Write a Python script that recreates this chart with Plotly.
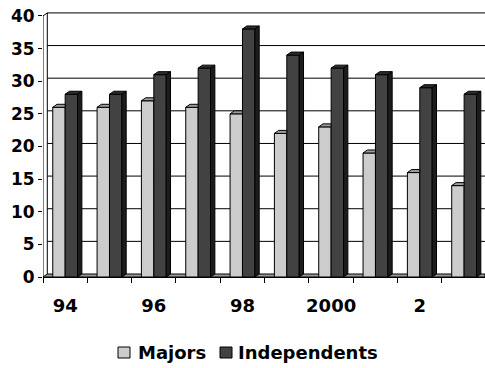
import plotly.graph_objects as go

# Yearly counts, Majors vs Independents
categories = ["94", "95", "96", "97", "98", "99", "2000", "1", "2", "3"]
majors = [26, 26, 27, 26, 25, 22, 23, 19, 16, 14]
independents = [28, 28, 31, 32, 38, 34, 32, 31, 29, 28]
series_names = ["Majors", "Independents"]
y_tick_values = [0, 5, 10, 15, 20, 25, 30, 35, 40]
x_tick_labels = categories[::2]

# Styling for the pseudo-3D column look
MAJ_FRONT, MAJ_TOP = "#cccccc", "#9c9c9c"
IND_FRONT, IND_TOP, IND_SIDE = "#424242", "#2c2c2c", "#1c1c1c"
BAR_W = 0.28      # front-face width of one column (category units)
DX = 0.097        # depth offset along x (category units)
DY = 0.46         # depth offset along y (value units)
X_RANGE = [-0.5, 9.471]
Y_RANGE = [0, 40.6]
FONT = "DejaVu Sans"

W, H = 485, 368
M_L, M_R, M_T, M_B = 43, 0, 12, 91
PLOT_W = W - M_L - M_R
PLOT_H = H - M_T - M_B


def paper_x(px):
    return (px - M_L) / PLOT_W


def paper_y(py):
    return (H - M_B - py) / PLOT_H


xs = list(range(len(categories)))


def polygons_trace(polys, fillcolor):
    px, py = [], []
    for poly in polys:
        for (a, b) in poly + [poly[0]]:
            px.append(a)
            py.append(b)
        px.append(None)
        py.append(None)
    return go.Scatter(x=px, y=py, mode="lines", fill="toself",
                      fillcolor=fillcolor, line=dict(color="black", width=1),
                      showlegend=False, hoverinfo="skip")


fig = go.Figure()

# Front faces
fig.add_trace(go.Bar(name=series_names[0], x=xs, y=majors, offset=-BAR_W, width=BAR_W,
                     marker=dict(color=MAJ_FRONT, line=dict(color="black", width=1))))
fig.add_trace(go.Bar(name=series_names[1], x=xs, y=independents, offset=0, width=BAR_W,
                     marker=dict(color=IND_FRONT, line=dict(color="black", width=1))))

# Top faces of Majors (right part hidden behind the Independents column)
maj_tops = [[(i - BAR_W, v), (i, v), (i, v + DY), (i - BAR_W + DX, v + DY)]
            for i, v in zip(xs, majors)]
# Top and side faces of Independents
ind_tops = [[(i, v), (i + BAR_W, v), (i + BAR_W + DX, v + DY), (i + DX, v + DY)]
            for i, v in zip(xs, independents)]
ind_sides = [[(i + BAR_W, 0), (i + BAR_W + DX, DY), (i + BAR_W + DX, v + DY), (i + BAR_W, v)]
             for i, v in zip(xs, independents)]

fig.add_trace(polygons_trace(maj_tops, MAJ_TOP))
fig.add_trace(polygons_trace(ind_tops, IND_TOP))
fig.add_trace(polygons_trace(ind_sides, IND_SIDE))

# Back wall gridlines, wall edge and floor
shapes = []
for t in y_tick_values[1:]:
    shapes.append(dict(type="line", xref="x", yref="y", layer="below",
                       x0=X_RANGE[0] + DX, x1=X_RANGE[1], y0=t + DY, y1=t + DY,
                       line=dict(color="black", width=1)))
shapes.append(dict(type="line", xref="x", yref="y", layer="below",
                   x0=X_RANGE[0] + DX, x1=X_RANGE[0] + DX,
                   y0=DY, y1=y_tick_values[-1] + DY,
                   line=dict(color="black", width=1)))
shapes.append(dict(type="line", xref="x", yref="y", layer="below",
                   x0=X_RANGE[0], x1=X_RANGE[0] + DX,
                   y0=y_tick_values[-1], y1=y_tick_values[-1] + DY,
                   line=dict(color="black", width=1)))
shapes.append(dict(type="path", xref="x", yref="y", layer="below",
                   path=(f"M{X_RANGE[0]},0 L{X_RANGE[1]},0 L{X_RANGE[1]},{DY} "
                         f"L{X_RANGE[0] + DX},{DY} Z"),
                   fillcolor="#9a9a9a", line=dict(color="black", width=1)))
# Front value axis line
shapes.append(dict(type="line", xref="x", yref="y", layer="above",
                   x0=X_RANGE[0], x1=X_RANGE[0], y0=0, y1=y_tick_values[-1],
                   line=dict(color="black", width=1)))

# Legend row below the chart: swatch + label for each series
legend_font = dict(family=FONT, size=18, color="black", weight="bold")
annotations = []
legend_items = [(series_names[0], MAJ_FRONT, 118, 138),
                (series_names[1], IND_FRONT, 220, 238)]
for name, color, box_left, text_left in legend_items:
    shapes.append(dict(type="rect", xref="paper", yref="paper", layer="above",
                       x0=paper_x(box_left), x1=paper_x(box_left + 12),
                       y0=paper_y(358), y1=paper_y(347),
                       fillcolor=color, line=dict(color="black", width=1)))
    annotations.append(dict(text=name, xref="paper", yref="paper",
                            x=paper_x(text_left - 2), y=paper_y(352),
                            xanchor="left", yanchor="middle", showarrow=False,
                            font=legend_font))

fig.update_layout(
    width=W, height=H,
    margin=dict(l=M_L, r=M_R, t=M_T, b=M_B),
    paper_bgcolor="white", plot_bgcolor="white",
    barmode="overlay",
    shapes=shapes,
    annotations=annotations,
    font=dict(family=FONT, color="black", weight="bold"),
    showlegend=False,
    xaxis=dict(range=X_RANGE, showgrid=False, zeroline=False,
               showline=True, linecolor="black", linewidth=1,
               tickmode="array", tickvals=xs[::2], ticktext=x_tick_labels,
               ticks="", ticklabelstandoff=12,
               tickfont=dict(family=FONT, size=18, color="black", weight="bold"),
               minor=dict(tickvals=[i - 0.5 for i in range(len(categories) + 1)],
                          ticks="outside", ticklen=5, tickcolor="black", tickwidth=1,
                          showgrid=False)),
    yaxis=dict(range=Y_RANGE, showgrid=False, zeroline=False, showline=False,
               tickmode="array", tickvals=y_tick_values,
               ticks="outside", ticklen=4, tickcolor="black", ticklabelstandoff=0,
               tickfont=dict(family=FONT, size=17, color="black", weight="bold")),
)

fig.write_html("out.html")
